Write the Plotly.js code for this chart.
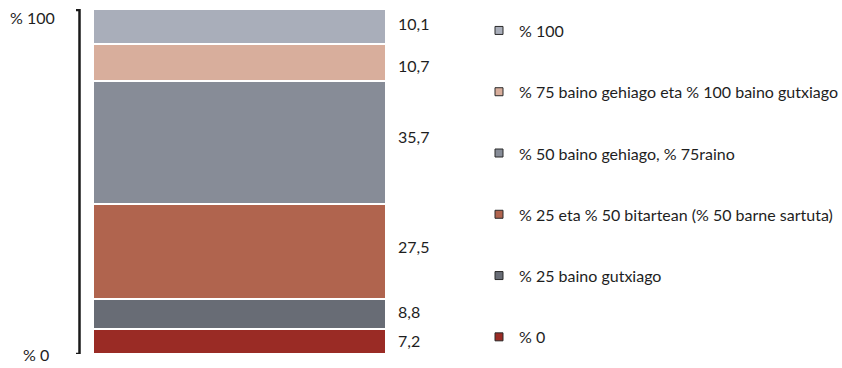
<!DOCTYPE html>
<html><head><meta charset="utf-8">
<script src="https://cdn.plot.ly/plotly-3.0.1.min.js"></script>
<style>html,body{margin:0;padding:0;background:#fff}</style>
</head><body>
<div id="chart" style="width:842px;height:368px"></div>
<script>
// bottom to top
const categories = ["% 0", "% 25 baino gutxiago", "% 25 eta % 50 bitartean (% 50 barne sartuta)", "% 50 baino gehiago, % 75raino", "% 75 baino gehiago eta % 100 baino gutxiago", "% 100"];
const values = [7.2, 8.8, 27.5, 35.7, 10.7, 10.1];
const valueLabels = ["7,2", "8,8", "27,5", "35,7", "10,7", "10,1"];
const colors = ["#9a2b25", "#686c75", "#b0644e", "#878c97", "#d8ae9c", "#a9aeba"];
const axisLabels = ["% 0", "% 100"];
const axisValues = [0, 100];
const legendRows = [0, 1, 2, 3, 4, 5];

const FONT = "Lato, 'Noto Sans', sans-serif";
const TXT = "#1e1e1e";
const labelShift = [-1, -2, -5, -6, 3, -3];
const traces = categories.map((c, i) => ({
  type: "bar", x: ["a"], y: [values[i]], name: c, showlegend: false,
  marker: {color: colors[i], line: {color: "#ffffff", width: 1.5}},
  hoverinfo: "skip", xaxis: "x", yaxis: "y"
}));
traces.push({
  type: "scatter", mode: "markers", x: legendRows.map(() => 0), y: legendRows,
  xaxis: "x2", yaxis: "y2", showlegend: false, hoverinfo: "skip",
  marker: {symbol: "square", size: 8, color: colors, line: {color: "#2a2a2a", width: 1}}
});

const annotations = [];
let cum = 0;
values.forEach((v, i) => {
  annotations.push({x: 0.5, y: cum + v / 2, xref: "x", yref: "y", text: valueLabels[i],
    showarrow: false, xanchor: "left", xshift: 10, yshift: -labelShift[i],
    font: {family: FONT, size: 16, color: TXT}});
  cum += v;
});
categories.forEach((c, i) => {
  annotations.push({x: 0, y: legendRows[i], xref: "x2", yref: "y2", text: c, showarrow: false,
    xanchor: "left", xshift: 18, font: {family: FONT, size: 16, color: TXT}});
});
annotations.push({x: 57 / 842, y: axisValues[1], xref: "paper", yref: "y", text: axisLabels[1], showarrow: false,
  xanchor: "right", yanchor: "middle", yshift: -8, font: {family: FONT, size: 16, color: TXT}});
annotations.push({x: 51 / 842, y: axisValues[0], xref: "paper", yref: "y", text: axisLabels[0], showarrow: false,
  xanchor: "right", yanchor: "middle", yshift: 0, font: {family: FONT, size: 16, color: TXT}});

const xb = 79.5 / 842, xh = 76 / 842;
const layout = {
  width: 842, height: 368,
  margin: {l: 0, r: 0, t: 9, b: 14, autoexpand: false},
  paper_bgcolor: "#fff", plot_bgcolor: "rgba(0,0,0,0)",
  barmode: "stack", bargap: 0,
  xaxis: {visible: false, range: [-0.5, 0.5], domain: [93 / 842, 386 / 842], fixedrange: true},
  yaxis: {visible: false, range: [0, 100], fixedrange: true},
  xaxis2: {visible: false, domain: [463 / 842, 1], range: [-36, 343], fixedrange: true},
  yaxis2: {visible: false, anchor: "x2", range: [-0.28, 5.35], fixedrange: true},
  showlegend: false,
  shapes: [{type: "path", xref: "paper", yref: "y",
    path: `M ${xh},99.7 L ${xb},99.7 L ${xb},0 L ${xh},0`,
    line: {color: "#1a1a1a", width: 2.5}}],
  annotations: annotations
};
Plotly.newPlot("chart", traces, layout, {displayModeBar: false, staticPlot: true});
</script>
</body></html>
